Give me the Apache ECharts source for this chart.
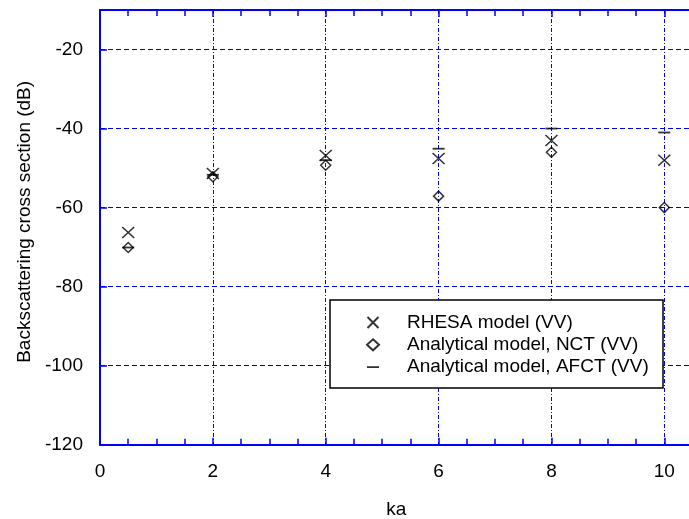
<!DOCTYPE html>
<html>
<head>
<meta charset="utf-8">
<script src="https://cdn.jsdelivr.net/npm/echarts@6/dist/echarts.min.js"></script>
<style>
html,body{margin:0;padding:0;background:#fff;}
#chart{width:689px;height:519px;}
</style>
</head>
<body>
<div id="chart"></div>
<script>
var ka = [0.5, 2, 4, 6, 8, 10];
var rhesa = [-66.3, -51.4, -46.8, -47.6, -43.0, -48.0];
var nct = [-70.1, -52.2, -49.3, -57.1, -46.0, -60.0];
var afct = [-70.1, -51.7, -48.0, -45.1, -40.0, -41.0];
var seriesNames = ['RHESA model (VV)', 'Analytical model, NCT (VV)', 'Analytical model, AFCT (VV)'];
var xTickLabels = [0, 2, 4, 6, 8, 10];
var yTickLabels = [-120, -100, -80, -60, -40, -20];

function pairs(xs, ys) { return xs.map(function (x, i) { return [x, ys[i]]; }); }

var BLUE = '#0000ff';
var FONT = 'Liberation Sans, Arial, sans-serif';
var XPATH = 'path://M0,0L10,10M10,0L0,10';
var DASHPATH = 'path://M0,0L12,0L12,1.8L0,1.8Z';

var chart = echarts.init(document.getElementById('chart'), null, {renderer: 'canvas'});
chart.setOption({
  animation: false,
  backgroundColor: '#fff',
  textStyle: {fontFamily: FONT},
  grid: {left: 100, top: 10, right: -3.5, bottom: 74.3, containLabel: false, outerBoundsMode: 'none'},
  xAxis: [{
    type: 'value', position: 'bottom', min: 0, max: 10.5, interval: 2,
    name: 'ka', nameLocation: 'middle', nameGap: 56,
    nameTextStyle: {fontSize: 19, color: '#000', fontFamily: FONT},
    axisLine: {show: true, onZero: false, lineStyle: {color: BLUE, width: 2}},
    axisTick: {show: true, inside: true, length: 7, lineStyle: {color: BLUE, width: 1.5}},
    minorTick: {show: true, splitNumber: 4, length: 6, lineStyle: {color: BLUE, width: 1.5}},
    axisLabel: {fontSize: 19, color: '#000', margin: 18, fontFamily: FONT,
      formatter: function (v) { return xTickLabels.indexOf(v) >= 0 ? String(v) : ''; }},
    splitLine: {show: true, lineStyle: {color: BLUE, width: 1, type: [4, 2, 1, 2]}}
  }, {
    type: 'value', position: 'top', min: 0, max: 10.5, interval: 2,
    axisLine: {show: true, onZero: false, lineStyle: {color: BLUE, width: 2}},
    axisTick: {show: true, inside: true, length: 7, lineStyle: {color: BLUE, width: 1.5}},
    minorTick: {show: true, splitNumber: 4, length: 6, lineStyle: {color: BLUE, width: 1.5}},
    axisLabel: {show: false},
    splitLine: {show: false}
  }],
  yAxis: [{
    type: 'value', position: 'left', min: -120, max: -10, interval: 20,
    name: 'Backscattering cross section (dB)', nameLocation: 'middle', nameGap: 65,
    nameTextStyle: {fontSize: 19, color: '#000', fontFamily: FONT, padding: [0, 0, 0, 11]},
    axisLine: {show: true, onZero: false, lineStyle: {color: BLUE, width: 2}},
    axisTick: {show: true, inside: true, length: 7, lineStyle: {color: BLUE, width: 1.5}},
    axisLabel: {fontSize: 19, color: '#000', margin: 17, fontFamily: FONT,
      formatter: function (v) { return yTickLabels.indexOf(v) >= 0 ? String(v) : ''; }},
    splitLine: {show: true, lineStyle: {color: BLUE, width: 1, type: [5, 3]}}
  }],
  graphic: [{
    type: 'rect', z: 3,
    shape: {x: 330, y: 300, width: 333, height: 88},
    style: {fill: '#fff', stroke: '#000', lineWidth: 1.5}
  }],
  legend: {
    z: 10,
    orient: 'vertical', left: 366, top: 311.5, padding: 0, itemGap: 0.3,
    itemWidth: 12, itemHeight: 11,
    data: [
      {name: seriesNames[0], icon: XPATH},
      {name: seriesNames[1], icon: 'diamond'},
      {name: seriesNames[2], icon: DASHPATH}
    ],
    textStyle: {fontSize: 19, color: '#000', fontFamily: FONT, lineHeight: 22, padding: [0, 0, 0, 23]}
  },
  series: [{
    name: seriesNames[0], type: 'scatter', z: 3,
    symbol: XPATH, symbolSize: [12, 11],
    itemStyle: {color: 'rgba(0,0,0,0)', borderColor: '#000', borderWidth: 1.5},
    data: pairs(ka, rhesa)
  }, {
    name: seriesNames[1], type: 'scatter', z: 2,
    symbol: 'diamond', symbolSize: [10, 10],
    itemStyle: {color: 'rgba(0,0,0,0)', borderColor: '#000', borderWidth: 1.5},
    data: pairs(ka, nct)
  }, {
    name: seriesNames[2], type: 'scatter', z: 4,
    symbol: 'rect', symbolSize: [12, 1.8],
    itemStyle: {color: '#000', borderWidth: 0},
    data: pairs(ka, afct)
  }]
});
</script>
</body>
</html>
